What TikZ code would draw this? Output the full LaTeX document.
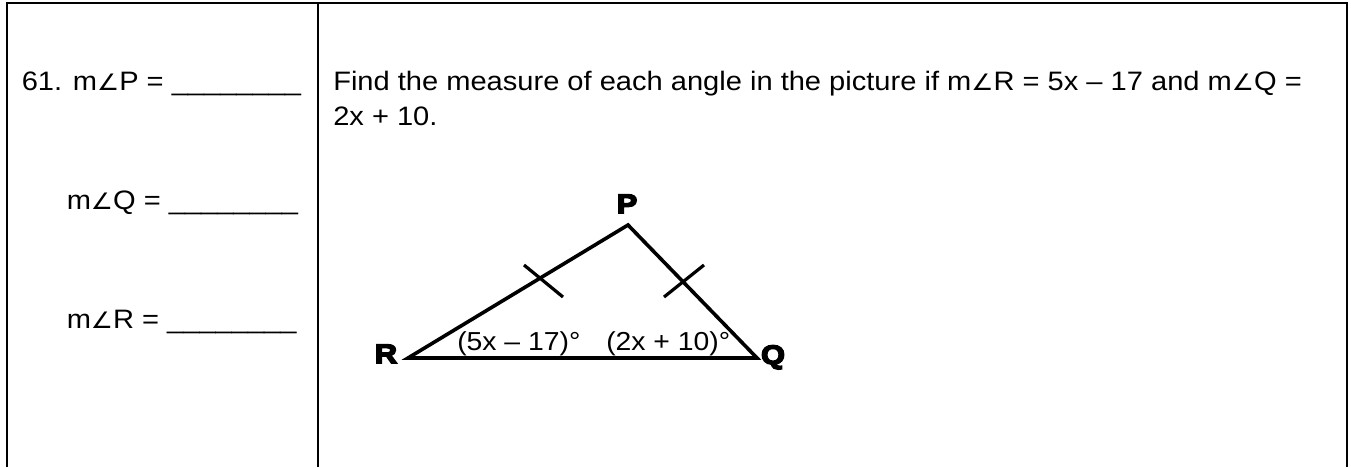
\documentclass[tikz,border=0pt]{standalone}
\usepackage{fontspec}
\setmainfont[FakeStretch=1.09]{Liberation Sans}
\newfontfamily\symf[FakeStretch=1.09]{DejaVu Sans}
\newfontfamily\heavyf[FakeBold=6,FakeStretch=1.15]{Liberation Sans Bold}
\newcommand\angsym{{\symf\fontsize{17pt}{17pt}\selectfont ∠}}
\begin{document}
\begin{tikzpicture}[x=0.75pt,y=-0.75pt,
  txt/.style={inner sep=0pt,anchor=base west,font=\fontsize{20pt}{24pt}\selectfont},
  vlabel/.style={inner sep=0pt,anchor=base,font=\heavyf\fontsize{20pt}{20pt}\selectfont},
  anglabel/.style={inner sep=0pt,anchor=base west,font=\fontsize{19.5pt}{24pt}\selectfont},
  frame/.style={line width=1.4pt},
  side/.style={line width=2.7pt,line cap=round,line join=miter},
  tick/.style={line width=2.4pt}]
\useasboundingbox (0,0) rectangle (1351,467);
% table frame
\coordinate (tl) at (7,3);
\coordinate (tr) at (1347,3);
\coordinate (bl) at (7,467);
\coordinate (br) at (1347,467);
\coordinate (dt) at (318,3);
\coordinate (db) at (318,467);
\draw[frame] (bl) -- (tl) -- (tr) -- (br);
\draw[frame] (dt) -- (db);
% left column
\node[txt] (ap) at (21.5,90.5) {61. m\angsym P = \_\_\_\_\_\_\_\_};
\node[txt] (aq) at (66.5,209) {m\angsym Q = \_\_\_\_\_\_\_\_};
\node[txt] (ar) at (66.5,328) {m\angsym R = \_\_\_\_\_\_\_\_};
% right column text
\node[txt] (l1) at (333,90.5) {Find the measure of each angle in the picture if m\angsym R = 5x – 17 and m\angsym Q =};
\node[txt] (l2) at (333,125.5) {2x + 10.};
% triangle
\coordinate (R) at (408,358);
\coordinate (Q) at (757,358);
\coordinate (P) at (628,225);
\draw[side] (R) -- (P) -- (Q) -- cycle;
\coordinate (t1a) at (524,265);
\coordinate (t1b) at (563,297);
\coordinate (t2a) at (664,297);
\coordinate (t2b) at (704,265);
\draw[tick] (t1a) -- (t1b);
\draw[tick] (t2a) -- (t2b);
\node[vlabel] (lp) at (627,213) {P};
\node[vlabel] (lr) at (386,363) {R};
\node[vlabel] (lq) at (773,364) {Q};
\node[anglabel] (ar5) at (457,350) {(5x – 17)°};
\node[anglabel] (aq2) at (606,350) {(2x + 10)°};
\end{tikzpicture}
\end{document}
